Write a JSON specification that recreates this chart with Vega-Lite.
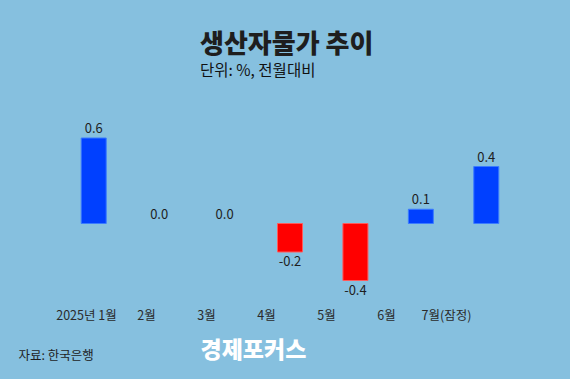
{
  "$schema": "https://vega.github.io/schema/vega-lite/v6.json",
  "autosize": "none",
  "width": 458,
  "height": 171,
  "padding": {"left": 61, "top": 138, "right": 51, "bottom": 70},
  "background": "#86c0df",
  "config": {
    "view": {"stroke": null},
    "font": "Noto Sans CJK KR"
  },
  "title": {
    "text": "생산자물가 추이",
    "subtitle": "단위: %, 전월대비",
    "anchor": "start",
    "frame": "group",
    "dx": 139,
    "offset": 44,
    "font": "Noto Sans CJK KR",
    "fontSize": 26,
    "fontWeight": 900,
    "color": "#1e1e1e",
    "subtitleFont": "Noto Sans CJK KR",
    "subtitleFontSize": 15.5,
    "subtitleColor": "#111111",
    "subtitlePadding": 6
  },
  "data": {
    "values": [
      {"month": "2025년 1월", "value": 0.6, "label": "0.6"},
      {"month": "2월", "value": 0.0, "label": "0.0"},
      {"month": "3월", "value": 0.0, "label": "0.0"},
      {"month": "4월", "value": -0.2, "label": "-0.2"},
      {"month": "5월", "value": -0.4, "label": "-0.4"},
      {"month": "6월", "value": 0.1, "label": "0.1"},
      {"month": "7월(잠정)", "value": 0.4, "label": "0.4"}
    ]
  },
  "resolve": {"scale": {"x": "independent"}, "axis": {"x": "independent"}},
  "layer": [
    {
      "encoding": {
        "x": {"field": "month", "type": "nominal", "sort": null,
              "scale": {"paddingInner": 0.618, "paddingOuter": 0.309}, "axis": null},
        "y": {"field": "value", "type": "quantitative",
              "scale": {"domain": [-0.6, 0.6], "nice": false},
              "axis": {"title": "경제포커스", "titleAngle": 0, "titleX": 139, "titleY": 212,
                       "titleAlign": "left", "titleBaseline": "middle", "titleColor": "#ffffff",
                       "titleFont": "Noto Sans CJK KR", "titleFontSize": 23, "titleFontWeight": 900,
                       "labels": false, "ticks": false, "domain": false, "grid": false}}
      },
      "layer": [
        {
          "mark": {"type": "bar", "strokeWidth": 1},
          "encoding": {
            "color": {
              "condition": {"test": "datum.value < 0", "value": "#ff0000"},
              "value": "#0040ff"
            },
            "stroke": {
              "condition": [
                {"test": "datum.value == 0", "value": null},
                {"test": "datum.value < 0", "value": "#ff5a5a"}
              ],
              "value": "#3b7bff"
            }
          }
        },
        {
          "transform": [{"filter": "datum.value >= 0"}],
          "mark": {"type": "text", "baseline": "alphabetic", "dy": -5, "fontSize": 13, "color": "#1e1e1e"},
          "encoding": {"text": {"field": "label"}}
        },
        {
          "transform": [{"filter": "datum.value < 0"}],
          "mark": {"type": "text", "baseline": "top", "dy": 4, "fontSize": 13, "color": "#1e1e1e"},
          "encoding": {"text": {"field": "label"}}
        }
      ]
    },
    {
      "mark": {"type": "point", "opacity": 0},
      "encoding": {
        "x": {"field": "month", "type": "nominal", "sort": null,
              "scale": {"type": "point", "padding": 0.8167, "align": 0.255},
              "axis": {"orient": "bottom", "title": "자료: 한국은행", "titleX": -43, "titleY": 46,
                       "titleAnchor": "start", "titleAlign": "left", "titleBaseline": "middle",
                       "titleFont": "Noto Sans CJK KR", "titleFontSize": 12.5, "titleFontWeight": "normal",
                       "titleColor": "#1e1e1e",
                       "labelAngle": 0, "labelFontSize": 12.5, "labelColor": "#2a2a2a",
                       "labelBaseline": "middle", "labelPadding": 6,
                       "ticks": false, "domain": false, "grid": false}}
      }
    }
  ]
}
